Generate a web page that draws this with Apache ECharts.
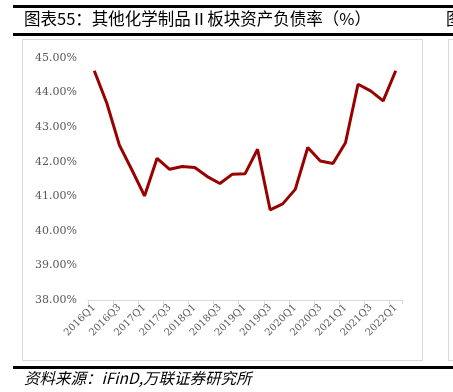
<!DOCTYPE html>
<html>
<head>
<meta charset="utf-8">
<script src="https://cdn.jsdelivr.net/npm/echarts@6/dist/echarts.min.js"></script>
<style>
  html, body { margin: 0; padding: 0; background: #fff; }
  #main { width: 453px; height: 392px; }
</style>
</head>
<body>
<div id="main"></div>
<script>
// 季度
let quarters = ['2016Q1','2016Q2','2016Q3','2016Q4','2017Q1','2017Q2','2017Q3','2017Q4',
  '2018Q1','2018Q2','2018Q3','2018Q4','2019Q1','2019Q2','2019Q3','2019Q4',
  '2020Q1','2020Q2','2020Q3','2020Q4','2021Q1','2021Q2','2021Q3','2021Q4','2022Q1'];
// 资产负债率 %
let debtRatio = [44.63, 43.69, 42.48, 41.76, 41.01, 42.10, 41.78, 41.86, 41.83, 41.57,
  41.37, 41.64, 41.65, 42.36, 40.61, 40.78, 41.20, 42.41, 42.02, 41.95,
  42.55, 44.24, 44.05, 43.76, 44.63];
let yMin = 38, yMax = 45, yStep = 1;

let titleText = '图表55：其他化学制品Ⅱ板块资产负债率（%）';
let sourceText = '资料来源：iFinD,万联证券研究所';

function createChart() {
  let myChart = echarts.init(document.getElementById('main'));
  let labelFont = 'DejaVu Serif, Liberation Serif, serif';
  let option = {
    animation: false,
    backgroundColor: '#fff',
    grid: { left: 88, right: 51, top: 58, bottom: 92 },
    xAxis: {
      type: 'category',
      data: quarters,
      boundaryGap: true,
      axisLine: { lineStyle: { color: '#d9d9d9', width: 1 } },
      axisTick: { show: true, length: 4, lineStyle: { color: '#d9d9d9' } },
      axisLabel: {
        interval: 1,
        rotate: 45,
        color: '#595959',
        fontSize: 10,
        fontFamily: labelFont,
        margin: 6
      }
    },
    yAxis: {
      type: 'value',
      min: yMin,
      max: yMax,
      interval: yStep,
      axisLine: { show: false },
      axisTick: { show: false },
      splitLine: { show: false },
      axisLabel: {
        color: '#595959',
        fontSize: 11,
        fontFamily: labelFont,
        margin: 11,
        formatter: function (v) { return v.toFixed(2) + '%'; }
      }
    },
    series: [{
      type: 'line',
      data: debtRatio,
      symbol: 'none',
      lineStyle: { color: '#990000', width: 3 },
      itemStyle: { color: '#990000' }
    }],
    graphic: [
      // 上下粗线
      { type: 'rect', shape: { x: 13, y: 5, width: 440, height: 3 }, style: { fill: '#000' }, silent: true },
      { type: 'rect', shape: { x: 13, y: 33, width: 440, height: 3 }, style: { fill: '#000' }, silent: true },
      { type: 'rect', shape: { x: 13, y: 366, width: 440, height: 3 }, style: { fill: '#000' }, silent: true },
      // 图框
      { type: 'rect', shape: { x: 22.5, y: 39.5, width: 400, height: 321 }, style: { fill: 'none', stroke: '#d9d9d9', lineWidth: 1 }, silent: true },
      { type: 'rect', shape: { x: 448.5, y: 39.5, width: 20, height: 321 }, style: { fill: 'none', stroke: '#d9d9d9', lineWidth: 1 }, silent: true },
      {
        type: 'text', left: 24, top: 10,
        style: { text: titleText, fill: '#000', font: '16.5px "Noto Sans CJK SC", sans-serif' }
      },
      {
        type: 'text', left: 446, top: 10,
        style: { text: '图', fill: '#000', font: '16.5px "Noto Sans CJK SC", sans-serif' }
      },
      {
        type: 'text', left: 24, top: 370,
        style: { text: sourceText, fill: '#000', font: 'italic 15.5px "Noto Sans CJK SC", sans-serif' }
      }
    ]
  };
  myChart.setOption(option);
}

createChart();
</script>
</body>
</html>
